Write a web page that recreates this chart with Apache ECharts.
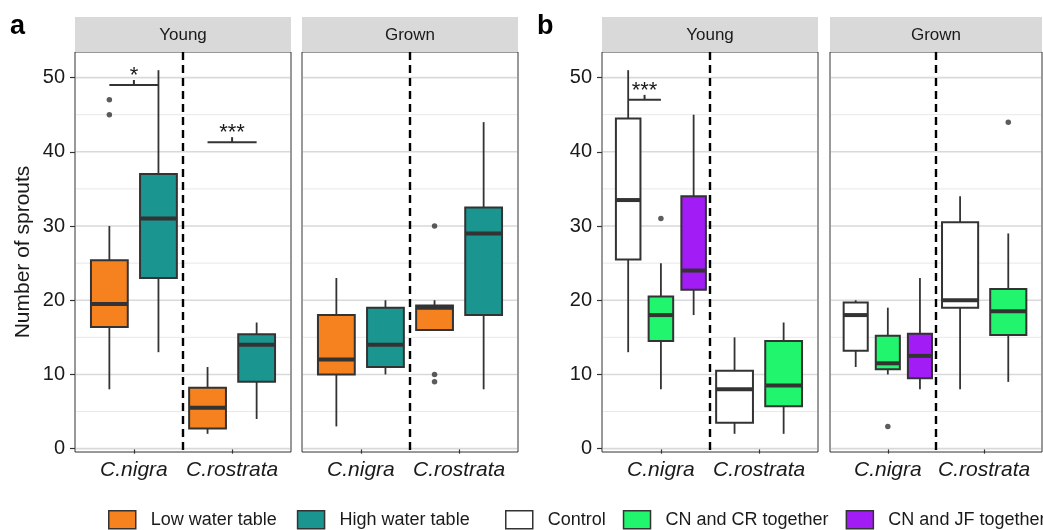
<!DOCTYPE html>
<html><head><meta charset="utf-8">
<script src="https://cdn.jsdelivr.net/npm/echarts@6/dist/echarts.min.js"></script>
<style>html,body{margin:0;padding:0;background:#fff}#c{width:1043px;height:530px}</style>
</head><body><div id="c"></div><script>
// ---------------- data ----------------
const categories = ['C.nigra', 'C.rostrata'];
const facets = ['Young', 'Grown'];
const panelLetters = ['a', 'b'];
const yTickValues = [0, 10, 20, 30, 40, 50];
const yMinorValues = [5, 15, 25, 35, 45];
const yTitle = 'Number of sprouts';
const legendA = ['Low water table', 'High water table'];
const legendB = ['Control', 'CN and CR together', 'CN and JF together'];

// box stats per category: [lower whisker, Q1, median, Q3, upper whisker]; null = no box
const aYoungLow  = [[8, 16.4, 19.5, 25.4, 30], [2, 2.7, 5.5, 8.2, 11]];
const aYoungHigh = [[13, 23, 31, 37, 51], [4, 9, 14, 15.4, 17]];
const aGrownLow  = [[3, 10, 12, 18, 23], [16, 16, 19, 19.3, 20]];
const aGrownHigh = [[10, 11, 14, 19, 20], [8, 18, 29, 32.5, 44]];
const bYoungControl = [[13, 25.5, 33.5, 44.5, 51], [2, 3.5, 8, 10.5, 15]];
const bYoungCNCR    = [[8, 14.5, 18, 20.5, 25], [2, 5.7, 8.5, 14.5, 17]];
const bYoungCNJF    = [[18, 21.4, 24, 34, 45], null];
const bGrownControl = [[11, 13.2, 18, 19.7, 20], [8, 19, 20, 30.5, 34]];
const bGrownCNCR    = [[10, 10.7, 11.5, 15.2, 19], [9, 15.3, 18.5, 21.5, 29]];
const bGrownCNJF    = [[8, 9.5, 12.5, 15.5, 23], null];

// outliers: [category index, value]
const aYoungLowOut  = [[0, 47], [0, 45]];
const aGrownLowOut  = [[1, 30], [1, 10], [1, 9]];
const bYoungCNCROut = [[0, 31]];
const bGrownCNCROut = [[0, 3], [1, 44]];

// significance brackets: [category index, y, label] (between first two groups)
const aYoungSig = [[0, 49, '*'], [1, 41.3, '***']];
const bYoungSig = [[0, 47, '***']];

// ---------------- styling / layout ----------------
const FONT = "'Liberation Sans', Arial, Helvetica, sans-serif";
const INK = '#1a1a1a', LINE = '#333333';
const C_ORANGE = '#F5821F', C_TEAL = '#1B958F', C_WHITE = '#FFFFFF', C_GREEN = '#21F56E', C_PURPLE = '#A21CF5';
const Y_MIN = -0.45, Y_MAX = 53.45, X_MIN = 0.4, X_MAX = 2.6;
const STRIP_TOP = 17, STRIP_H = 35;

const panels = [
  { grid: {left: 75, top: 52, width: 216, height: 400}, facet: 0, yAxisShow: true, sig: aYoungSig,
    groups: [{name: legendA[0], color: C_ORANGE, stats: aYoungLow, out: aYoungLowOut},
             {name: legendA[1], color: C_TEAL, stats: aYoungHigh, out: []}] },
  { grid: {left: 302, top: 52, width: 216, height: 400}, facet: 1, yAxisShow: false, sig: [],
    groups: [{name: legendA[0], color: C_ORANGE, stats: aGrownLow, out: aGrownLowOut},
             {name: legendA[1], color: C_TEAL, stats: aGrownHigh, out: []}] },
  { grid: {left: 602, top: 52, width: 216, height: 400}, facet: 0, yAxisShow: true, sig: bYoungSig,
    groups: [{name: legendB[0], color: C_WHITE, stats: bYoungControl, out: []},
             {name: legendB[1], color: C_GREEN, stats: bYoungCNCR, out: bYoungCNCROut},
             {name: legendB[2], color: C_PURPLE, stats: bYoungCNJF, out: []}] },
  { grid: {left: 830, top: 52, width: 212, height: 400}, facet: 1, yAxisShow: false, sig: [],
    groups: [{name: legendB[0], color: C_WHITE, stats: bGrownControl, out: []},
             {name: legendB[1], color: C_GREEN, stats: bGrownCNCR, out: bGrownCNCROut},
             {name: legendB[2], color: C_PURPLE, stats: bGrownCNJF, out: []}] }
];

// dodge position of group g in category c within a panel
function dodge(panel, g, c) {
  const present = panel.groups.map((gr, i) => gr.stats[c] ? i : -1).filter(i => i >= 0);
  const n = present.length, k = present.indexOf(g);
  return { x: (c + 1) + (k - (n - 1) / 2) / n, w: 0.75 / n };
}

const grids = [], xAxes = [], yAxes = [], series = [], graphics = [];

panels.forEach((p, pi) => {
  grids.push(Object.assign({show: true, borderColor: LINE, borderWidth: 1, backgroundColor: '#fff'}, p.grid));
  xAxes.push({
    type: 'value', gridIndex: pi, min: X_MIN, max: X_MAX,
    axisLine: {show: false}, splitLine: {show: false},
    axisTick: {show: true, length: 5, lineStyle: {color: LINE, width: 1.2}, customValues: [1, 2]},
    axisLabel: {customValues: [1, 2], formatter: v => categories[Math.round(v) - 1] || '',
      fontFamily: FONT, fontSize: 21, fontStyle: 'italic', color: INK, margin: 8}
  });
  yAxes.push({
    type: 'value', gridIndex: pi, min: Y_MIN, max: Y_MAX,
    axisLine: {show: false}, splitLine: {show: false},
    name: pi === 0 ? yTitle : '', nameLocation: 'middle', nameGap: 41, nameRotate: 90,
    nameTextStyle: {fontFamily: FONT, fontSize: 21, color: INK},
    axisTick: {show: p.yAxisShow, length: 5, lineStyle: {color: LINE, width: 1.2}, customValues: yTickValues},
    axisLabel: {show: p.yAxisShow, customValues: yTickValues,
      formatter: v => (yTickValues.indexOf(v) >= 0 ? String(v) : ''),
      fontFamily: FONT, fontSize: 20, color: INK, margin: 10}
  });

  // grid lines
  const gridData = yTickValues.map(v => [1.5, v, 1]).concat(yMinorValues.map(v => [1.5, v, 0]));
  series.push({
    type: 'custom', name: 'grid' + pi, xAxisIndex: pi, yAxisIndex: pi, silent: true, z: 1,
    data: gridData,
    renderItem: (params, api) => {
      const v = api.value(1), major = api.value(2) === 1;
      const a = api.coord([X_MIN, v]), b = api.coord([X_MAX, v]);
      return {type: 'line', shape: {x1: a[0] + 1, y1: a[1], x2: b[0] - 1, y2: b[1]},
        style: {stroke: major ? '#D9D9D9' : '#E8E8E8', lineWidth: major ? 1.6 : 1}};
    }
  });
  // dashed separator between species
  series.push({
    type: 'custom', name: 'sep' + pi, xAxisIndex: pi, yAxisIndex: pi, silent: true, z: 2,
    data: [[1.5, 0]],
    renderItem: (params, api) => {
      const a = api.coord([api.value(0), Y_MAX]), b = api.coord([api.value(0), Y_MIN]);
      return {type: 'line', shape: {x1: a[0], y1: a[1], x2: b[0], y2: b[1]},
        style: {stroke: '#000', lineWidth: 2.4, lineDash: [8, 5]}};
    }
  });

  p.groups.forEach((g, gi) => {
    const data = [];
    g.stats.forEach((s, c) => {
      if (!s) return;
      const d = dodge(p, gi, c);
      data.push([d.x].concat(s).concat([d.w]));
    });
    series.push({
      type: 'custom', name: g.name, xAxisIndex: pi, yAxisIndex: pi, z: 3,
      itemStyle: {color: g.color, borderColor: LINE, borderWidth: 1.5},
      data: data,
      renderItem: (params, api) => {
        const x = api.value(0), lo = api.value(1), q1 = api.value(2), md = api.value(3),
              q3 = api.value(4), hi = api.value(5), w = api.value(6);
        const tl = api.coord([x - w / 2, q3]), br = api.coord([x + w / 2, q1]);
        const cx = api.coord([x, md])[0];
        const yLo = api.coord([x, lo])[1], yHi = api.coord([x, hi])[1], yMd = api.coord([x, md])[1];
        return {type: 'group', children: [
          {type: 'line', shape: {x1: cx, y1: yHi, x2: cx, y2: tl[1]}, style: {stroke: LINE, lineWidth: 1.8}},
          {type: 'line', shape: {x1: cx, y1: br[1], x2: cx, y2: yLo}, style: {stroke: LINE, lineWidth: 1.8}},
          {type: 'rect', shape: {x: tl[0], y: tl[1], width: br[0] - tl[0], height: br[1] - tl[1]},
            style: {fill: g.color, stroke: LINE, lineWidth: 2}},
          {type: 'line', shape: {x1: tl[0], y1: yMd, x2: br[0], y2: yMd}, style: {stroke: LINE, lineWidth: 4}}
        ]};
      }
    });
    if (g.out.length) {
      series.push({
        type: 'scatter', name: g.name + ' outliers', xAxisIndex: pi, yAxisIndex: pi, z: 4, silent: true,
        symbol: 'circle', symbolSize: 5.5, itemStyle: {color: LINE},
        data: g.out.map(o => [dodge(p, gi, o[0]).x, o[1]])
      });
    }
  });

  if (p.sig.length) {
    const sigData = p.sig.map(s => [dodge(p, 0, s[0]).x, dodge(p, 1, s[0]).x, s[1]]);
    series.push({
      type: 'custom', name: 'sig' + pi, xAxisIndex: pi, yAxisIndex: pi, z: 5, silent: true,
      data: sigData,
      renderItem: (params, api) => {
        const a = api.coord([api.value(0), api.value(2)]), b = api.coord([api.value(1), api.value(2)]);
        const mx = (a[0] + b[0]) / 2;
        return {type: 'group', children: [
          {type: 'line', shape: {x1: a[0], y1: a[1], x2: b[0], y2: b[1]}, style: {stroke: LINE, lineWidth: 2}},
          {type: 'line', shape: {x1: mx, y1: a[1], x2: mx, y2: a[1] - 5}, style: {stroke: LINE, lineWidth: 2}},
          {type: 'text', x: mx, y: a[1] - 9, style: {text: p.sig[params.dataIndex][2], fill: INK,
            font: '22px ' + FONT, align: 'center', verticalAlign: 'middle'}}
        ]};
      }
    });
  }

  // facet strip
  graphics.push({type: 'rect', left: p.grid.left, top: STRIP_TOP,
    shape: {width: p.grid.width, height: STRIP_H}, style: {fill: '#D9D9D9'}, silent: true});
  graphics.push({type: 'text', x: p.grid.left + p.grid.width / 2, y: STRIP_TOP + STRIP_H / 2 + 1,
    style: {text: facets[p.facet], fill: INK, font: '17px ' + FONT, align: 'center', verticalAlign: 'middle'}, silent: true});
});

graphics.push({type: 'text', x: 10, y: 27, style: {text: panelLetters[0], fill: '#000',
  font: 'bold 27px ' + FONT, align: 'left', verticalAlign: 'middle'}});
graphics.push({type: 'text', x: 537, y: 27, style: {text: panelLetters[1], fill: '#000',
  font: 'bold 27px ' + FONT, align: 'left', verticalAlign: 'middle'}});

const legendCommon = {
  type: 'plain', orient: 'horizontal', top: 510, padding: 0, itemWidth: 27, itemHeight: 18, icon: 'rect',
  width: 800,
  itemStyle: {borderColor: LINE, borderWidth: 1.5},
  textStyle: {fontFamily: FONT, fontSize: 18, color: INK, padding: [0, 0, 0, 10]},
  selectedMode: false
};

const option = {
  animation: false,
  backgroundColor: '#fff',
  grid: grids, xAxis: xAxes, yAxis: yAxes, series: series,
  legend: [
    Object.assign({left: 108, itemGap: 20, data: legendA}, legendCommon),
    Object.assign({left: 505, itemGap: 17, data: legendB}, legendCommon)
  ],
  graphic: graphics
};

const chart = echarts.init(document.getElementById('c'), null, {renderer: 'canvas'});
chart.setOption(option);
</script></body></html>
